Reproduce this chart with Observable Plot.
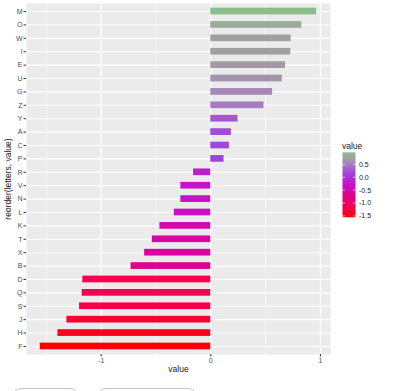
<!DOCTYPE html>
<html><head><meta charset="utf-8">
<script src="https://cdn.jsdelivr.net/npm/d3@7"></script>
<script src="https://cdn.jsdelivr.net/npm/@observablehq/plot@0.6"></script>
<style>
body{margin:0;background:#fff;font-family:"Liberation Sans",Arial,sans-serif;}
#wrap{position:relative;width:409px;height:391px;overflow:hidden;}
#wrap svg{display:block;}
.btn{position:absolute;top:388px;height:20px;border:1px solid #c4c4c4;border-radius:9px;background:#fff;}
</style>
</head><body><div id="wrap"></div>
<script>
const letters = ["M","O","W","I","E","U","G","Z","Y","A","C","P","R","V","N","L","K","T","X","B","D","Q","S","J","H","F"];
const values = [0.966,0.83,0.733,0.73,0.682,0.652,0.564,0.485,0.248,0.188,0.17,0.121,-0.157,-0.273,-0.273,-0.333,-0.464,-0.533,-0.603,-0.727,-1.167,-1.173,-1.197,-1.312,-1.394,-1.555];
const xMajor = [-1, 0, 1];
const xMajorLabels = ["-1", "0", "1"];
const xMinor = [-1.5, -0.5, 0.5];
const legendTicks = [0.5, 0, -0.5, -1, -1.5];
const legendLabels = ["0.5", "0.0", "-0.5", "-1.0", "-1.5"];
const colorStops = [-1.555, -1.17, -0.727, -0.27, 0.12, 0.49, 0.73, 0.966];
const colorValues = ["#ff0000", "#f50050", "#e0008a", "#c810c8", "#a040e0", "#a87cc0", "#a0a0a0", "#8fbc8f"];

const data = letters.map((l, i) => ({letter: l, value: values[i]}));

const plot = Plot.plot({
  width: 409,
  height: 380,
  marginLeft: 26,
  marginRight: 79,
  marginTop: 3,
  marginBottom: 26,
  style: {fontFamily: "Liberation Sans, Arial, sans-serif", fontSize: "7px", background: "transparent"},
  x: {domain: [-1.681, 1.092]},
  y: {domain: letters, paddingInner: 0.5, paddingOuter: 0.35, round: false},
  color: {type: "linear", domain: colorStops, range: colorValues},
  marks: [
    Plot.frame({fill: "#ebebeb", stroke: null}),
    Plot.ruleX(xMinor, {stroke: "#fff", strokeWidth: 0.5}),
    Plot.ruleX(xMajor, {stroke: "#fff", strokeWidth: 1.1}),
    Plot.gridY({stroke: "#fff", strokeOpacity: 1, strokeWidth: 1.1}),
    Plot.barX(data, {x: "value", y: "letter", fill: "value"}),
    Plot.axisY({tickSize: 2.5, tickPadding: 1.5, stroke: "#333", fill: "#4d4d4d", fontSize: 7,
      label: "reorder(letters, value)", labelAnchor: "center", labelOffset: 22, labelArrow: "none"}),
    Plot.axisX({ticks: xMajor, tickSize: 2.5, tickPadding: 1.5, stroke: "#333", fill: "#4d4d4d", fontSize: 7,
      tickFormat: d => xMajorLabels[xMajor.indexOf(d)],
      label: "value", labelAnchor: "center", labelOffset: 17, labelArrow: "none"})
  ]
});
document.getElementById("wrap").appendChild(plot);
plot.querySelectorAll("[aria-label='y-axis label'] text, [aria-label='x-axis label'] text, [aria-label='y-axis label'], [aria-label='x-axis label']").forEach(t => {
  t.setAttribute("fill", "#1a1a1a"); t.style.fontSize = "8.5px";
});

// vertical colorbar legend (ggplot style)
const color = plot.scale("color");
const cs = d3.scaleLinear().domain([-1.555, 0.966]).range([217.3, 152.3]);
const lg = d3.select("#wrap").append("svg")
  .attr("width", 409).attr("height", 391)
  .style("position", "absolute").style("left", "0px").style("top", "0px")
  .style("font-family", "Liberation Sans, Arial, sans-serif");
const grad = lg.append("defs").append("linearGradient").attr("id", "lgrad")
  .attr("x1", 0).attr("y1", 1).attr("x2", 0).attr("y2", 0);
d3.range(0, 1.0001, 0.05).forEach(t => {
  const v = -1.555 + t * (0.966 + 1.555);
  grad.append("stop").attr("offset", t).attr("stop-color", color.apply(v));
});
lg.append("text").attr("x", 342).attr("y", 148.5).attr("font-size", 8.5).attr("fill", "#1a1a1a").text("value");
lg.append("rect").attr("x", 342.5).attr("y", 152.3).attr("width", 13).attr("height", 65).attr("fill", "url(#lgrad)");
legendTicks.forEach((v, i) => {
  const y = cs(v);
  lg.append("line").attr("x1", 342.5).attr("x2", 345).attr("y1", y).attr("y2", y).attr("stroke", "#fff").attr("stroke-width", 0.6);
  lg.append("line").attr("x1", 353).attr("x2", 355.5).attr("y1", y).attr("y2", y).attr("stroke", "#fff").attr("stroke-width", 0.6);
  lg.append("text").attr("x", 359).attr("y", y).attr("dy", "0.35em").attr("font-size", 7).attr("fill", "#1a1a1a").text(legendLabels[i]);
});

// page buttons partially visible at the bottom
const wrap = document.getElementById("wrap");
[[12, 65], [97, 98]].forEach(([l, w]) => {
  const b = document.createElement("div"); b.className = "btn";
  b.style.left = l + "px"; b.style.width = w + "px"; wrap.appendChild(b);
});
</script>
</body></html>
